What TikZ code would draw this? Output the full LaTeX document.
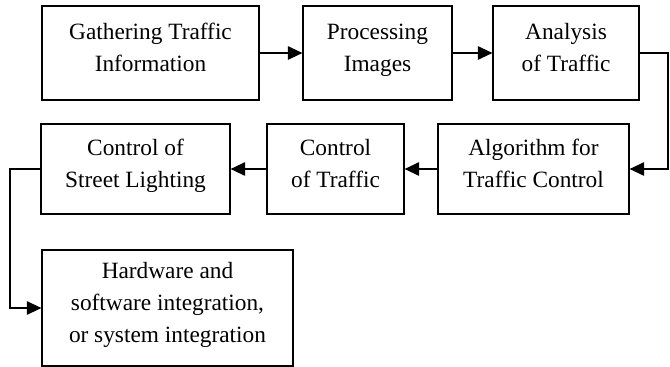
\documentclass[tikz,border=0pt]{standalone}
\usepackage{fontspec}
\setmainfont{Liberation Serif}
\usetikzlibrary{arrows.meta}
\usetikzlibrary{positioning}

\tikzset{
    box/.style={draw, line width=0.8pt, align=center, inner sep=0pt,
        text depth=8.5pt, font=\fontsize{17.5}{24}\selectfont},
    flow/.style={-{Triangle[length=11pt,width=10pt]}, line width=1.5pt}
}

\begin{document}
\begin{tikzpicture}[x=0.75pt,y=-0.75pt]
    \useasboundingbox (0,0) rectangle (670,367);
    % top row
    \node[box, line width=1.5pt, minimum width=162.75pt, minimum height=70.5pt] (gather) at (150.5,53) {Gathering Traffic\\Information};
    \node[box, minimum width=111.75pt, minimum height=70.5pt] (images) at (377.5,53) {Processing\\Images};
    \node[box, minimum width=109.5pt, minimum height=70.5pt] (analysis) at (566,53) {Analysis\\of Traffic};
    % second row
    \node[box, minimum width=143.25pt, minimum height=67.5pt] (algo) at (533.5,169) {Algorithm for\\Traffic Control};
    \node[box, minimum width=102.75pt, minimum height=67.5pt] (ctraffic) at (335.5,169) {Control\\of Traffic};
    \node[box, minimum width=141.75pt, minimum height=67.5pt] (street) at (135.5,169) {Control of\\Street Lighting};
    % last box
    \node[box, minimum width=188.25pt, minimum height=87pt] (hardware) at (167.5,308) {Hardware and\\software integration,\\or system integration};

    \coordinate (turnR) at (668,53);
    \coordinate (turnL) at (10,169);

    \draw[flow] (gather) -- (images);
    \draw[flow] (images) -- (analysis);
    \draw[flow] (analysis.east) -- (turnR) |- (algo.east);
    \draw[flow] (algo) -- (ctraffic);
    \draw[flow] (ctraffic) -- (street);
    \draw[flow] (street.west) -- (turnL) |- (hardware.west);
\end{tikzpicture}
\end{document}
